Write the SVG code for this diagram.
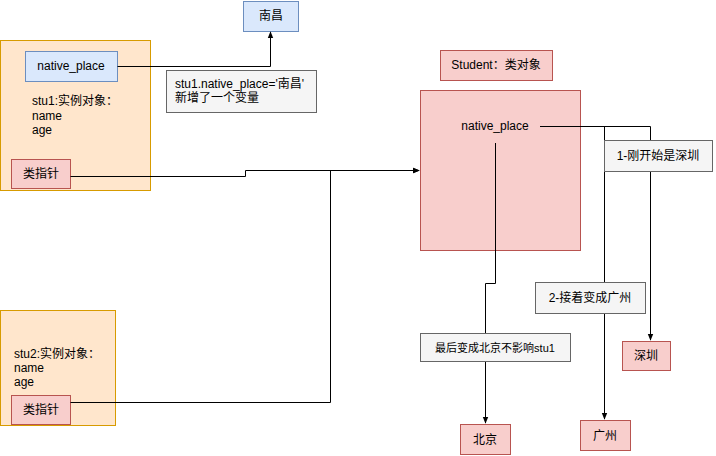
<svg xmlns="http://www.w3.org/2000/svg" width="716" height="456" viewBox="0 0 716 456">
<defs>
<style>
text{font-family:"Liberation Sans","Noto Sans CJK SC",sans-serif;font-size:12px;fill:#000}
.o{fill:#ffe6cc;stroke:#d79b00}
.b{fill:#dae8fc;stroke:#6c8ebf}
.r{fill:#f8cecc;stroke:#b85450}
.g{fill:#f5f5f5;stroke:#666666}
.c{fill:none;stroke:#000;marker-end:url(#a)}
</style>
<marker id="a" viewBox="0 0 10 10" refX="9" refY="5" markerWidth="7" markerHeight="7" orient="auto"><path d="M0,1 L10,5 L0,9 z" fill="#000"/></marker>
</defs>
<rect width="716" height="456" fill="#fff"/>
<g id="stu1"><rect class="o" x="0.5" y="40.5" width="150" height="150"/>
<text x="32" y="105">stu1:实例对象：</text><text x="32" y="120">name</text><text x="32" y="134">age</text></g>
<g id="stu2"><rect class="o" x="0.5" y="310.5" width="115" height="115"/>
<text x="14" y="358">stu2:实例对象：</text><text x="14" y="372">name</text><text x="14" y="386">age</text></g>
<g id="np1"><rect class="b" x="25.5" y="51.5" width="92" height="30"/><text x="71" y="70" text-anchor="middle">native_place</text></g>
<g id="ptr1"><rect class="r" x="11.5" y="159.5" width="59" height="29"/><text x="41" y="178" text-anchor="middle">类指针</text></g>
<g id="ptr2"><rect class="r" x="11.5" y="395.5" width="59" height="29"/><text x="41" y="414" text-anchor="middle">类指针</text></g>
<g id="nanchang"><rect class="b" x="243.5" y="1.5" width="55" height="30"/><text x="271" y="20" text-anchor="middle">南昌</text></g>
<g id="note"><rect class="g" x="166.5" y="70.5" width="150" height="42"/><text x="175" y="88">stu1.native_place='南昌'</text><text x="175" y="102">新增了一个变量</text></g>
<g id="studentLabel"><rect class="r" x="440.5" y="50.5" width="112" height="30"/><text x="496" y="69" text-anchor="middle">Student：类对象</text></g>
<g id="student"><rect class="r" x="420.5" y="90.5" width="160" height="160"/><text x="495" y="130" text-anchor="middle">native_place</text></g>
<g id="sz"><rect class="r" x="622.5" y="341.5" width="48" height="29"/><text x="646" y="360" text-anchor="middle">深圳</text></g>
<g id="gz"><rect class="r" x="580.5" y="420.5" width="50" height="30"/><text x="605" y="440" text-anchor="middle">广州</text></g>
<g id="bj"><rect class="r" x="460.5" y="424.5" width="50" height="30"/><text x="485" y="444" text-anchor="middle">北京</text></g>
<g id="connectors">
<path class="c" d="M117.5,66.5 H270.5 V32"/>
<path class="c" d="M70.5,176.5 H245.5 V170.5 H419"/>
<path class="c" d="M70.5,402.5 H330.5 V170.5 H419"/>
<path class="c" d="M540,126.5 H650.5 V340"/>
<path class="c" d="M604.5,126.5 V419"/>
<path class="c" d="M495.5,143 V283.5 H485.5 V423"/>
</g>
<g id="l1"><rect class="g" x="604.5" y="140.5" width="108" height="31"/><text x="658" y="160" text-anchor="middle">1-刚开始是深圳</text></g>
<g id="l2"><rect class="g" x="535.5" y="282.5" width="110" height="31"/><text x="590" y="302" text-anchor="middle">2-接着变成广州</text></g>
<g id="l3"><rect class="g" x="420.5" y="333.5" width="150" height="28"/><text x="495" y="352" text-anchor="middle" style="font-size:11px">最后变成北京不影响stu1</text></g>
</svg>
